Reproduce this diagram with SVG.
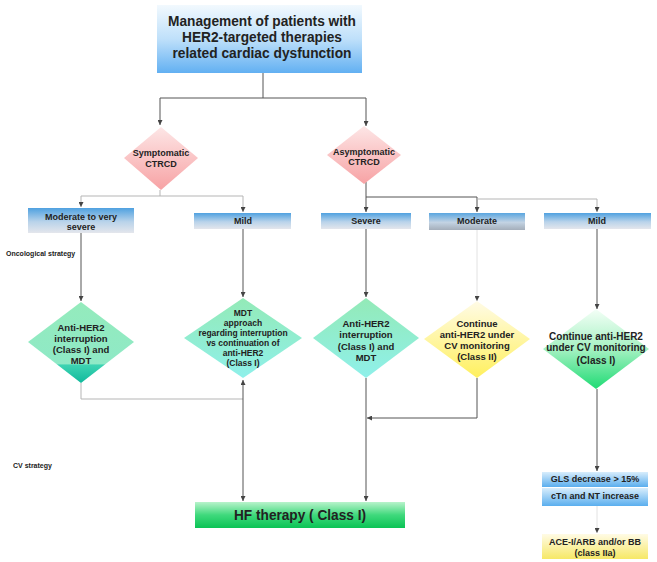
<svg xmlns="http://www.w3.org/2000/svg" width="657" height="562" viewBox="0 0 657 562">
<defs>
<linearGradient id="gTitle" x1="0" y1="0" x2="0" y2="1"><stop offset="0" stop-color="#f2f9fe"/><stop offset="0.5" stop-color="#bfe0fa"/><stop offset="1" stop-color="#62b0f2"/></linearGradient>
<linearGradient id="gPink" x1="0" y1="0" x2="0" y2="1"><stop offset="0" stop-color="#fde6e6"/><stop offset="1" stop-color="#f7a2a4"/></linearGradient>
<linearGradient id="gHead" x1="0" y1="0" x2="0" y2="1"><stop offset="0" stop-color="#4fa1e0"/><stop offset="0.55" stop-color="#b9d3ea"/><stop offset="1" stop-color="#e4e6ec"/></linearGradient>
<linearGradient id="gHeadDark" x1="0" y1="0" x2="0" y2="1"><stop offset="0" stop-color="#5aa6e0"/><stop offset="0.55" stop-color="#c3d3e3"/><stop offset="1" stop-color="#a4aeba"/></linearGradient>
<linearGradient id="gTealTri" x1="0" y1="0" x2="0" y2="1"><stop offset="0" stop-color="#94ebbc"/><stop offset="0.76" stop-color="#8fe9c6"/><stop offset="0.78" stop-color="#3dd3b2"/><stop offset="1" stop-color="#10b99c"/></linearGradient>
<linearGradient id="gTeal" x1="0" y1="0" x2="0" y2="1"><stop offset="0" stop-color="#93eab7"/><stop offset="1" stop-color="#8ff0ea"/></linearGradient>
<linearGradient id="gYellow" x1="0" y1="0" x2="0" y2="1"><stop offset="0" stop-color="#fffbe6"/><stop offset="1" stop-color="#fff05e"/></linearGradient>
<linearGradient id="gGreenD" x1="0" y1="0" x2="0" y2="1"><stop offset="0" stop-color="#f4fff7"/><stop offset="0.5" stop-color="#a5f1c2"/><stop offset="1" stop-color="#1fdb74"/></linearGradient>
<linearGradient id="gHF" x1="0" y1="0" x2="0" y2="1"><stop offset="0" stop-color="#b8f3cb"/><stop offset="0.5" stop-color="#3fd97c"/><stop offset="1" stop-color="#0bc355"/></linearGradient>
<linearGradient id="gLBlue" x1="0" y1="0" x2="0" y2="1"><stop offset="0" stop-color="#d8edfc"/><stop offset="1" stop-color="#5aaeee"/></linearGradient>
<linearGradient id="gAce" x1="0" y1="0" x2="0" y2="1"><stop offset="0" stop-color="#fffbe6"/><stop offset="1" stop-color="#f6e866"/></linearGradient>
<marker id="arr" viewBox="0 0 6 6" markerWidth="5" markerHeight="5" refX="6" refY="3" orient="auto-start-reverse" markerUnits="userSpaceOnUse"><path d="M0,0 L6,3 L0,6 z" fill="#444"/></marker>
</defs>
<style>
text{font-family:"Liberation Sans",Arial,sans-serif;font-weight:bold;fill:#222;text-anchor:middle}
.ln{fill:none;stroke:#555;stroke-width:1}
.lt{fill:none;stroke:#b5b5b5;stroke-width:1}
.vl{fill:none;stroke:#e2e2e2;stroke-width:1}
.side{font-size:7px;text-anchor:start}
</style>
<rect width="657" height="562" fill="#ffffff"/>

<g id="connectors">
<path class="ln" d="M263,73 V98 H160 V125" marker-end="url(#arr)"/>
<path class="ln" d="M263,98 H366 V126" marker-end="url(#arr)"/>
<path class="lt" d="M160,190 V196 H81 V207" marker-end="url(#arr)"/>
<path class="lt" d="M160,196 H243 V212" marker-end="url(#arr)"/>
<path class="ln" d="M366,182 V212" marker-end="url(#arr)"/>
<path class="ln" d="M366,197 H477 V212" marker-end="url(#arr)"/>
<path class="lt" d="M477,199 H597 V212" marker-end="url(#arr)"/>
<path class="ln" d="M81,233 V301" marker-end="url(#arr)"/>
<path class="ln" d="M243,229 V297" marker-end="url(#arr)"/>
<path class="ln" d="M366,229 V297" marker-end="url(#arr)"/>
<path class="vl" d="M477,230 V295"/>
<path class="vl" d="M477,295 V301" stroke="#555" marker-end="url(#arr)"/>
<path class="ln" d="M597,229 V309" marker-end="url(#arr)"/>
<path class="lt" d="M81,383 V399 H243"/>
<path class="ln" d="M243,380 V501" marker-start="url(#arr)" marker-end="url(#arr)"/>
<path class="ln" d="M366,378 V501" marker-end="url(#arr)"/>
<path class="ln" d="M477,378 V418 H367" marker-end="url(#arr)"/>
<path class="ln" d="M597,389 V471" marker-end="url(#arr)"/>
<path class="vl" d="M597,506 V528"/>
<path class="vl" d="M597,527 V533" stroke="#555" marker-end="url(#arr)"/>
</g>

<g id="title">
<rect x="157" y="5" width="205" height="68" fill="url(#gTitle)"/>
<text x="262" y="26" font-size="14.5" textLength="188" lengthAdjust="spacingAndGlyphs">Management of patients with</text>
<text x="262" y="42" font-size="14.5" textLength="160" lengthAdjust="spacingAndGlyphs">HER2-targeted therapies</text>
<text x="262" y="58" font-size="14.5" textLength="179" lengthAdjust="spacingAndGlyphs">related cardiac dysfunction</text>
</g>

<g id="symptomatic">
<polygon points="161,127 198,158 161,190 124,158" fill="url(#gPink)"/>
<text x="161" y="156" font-size="9">Symptomatic</text>
<text x="161" y="167" font-size="9">CTRCD</text>
</g>

<g id="asymptomatic">
<polygon points="364,126 401,155 364,184 327,155" fill="url(#gPink)"/>
<text x="364" y="155" font-size="9">Asymptomatic</text>
<text x="364" y="165" font-size="9">CTRCD</text>
</g>

<g id="sym-moderate">
<rect x="28" y="208" width="106" height="25" fill="url(#gHead)"/>
<text x="81" y="220" font-size="9">Moderate to very</text>
<text x="81" y="230" font-size="9">severe</text>
</g>

<g id="sym-mild">
<rect x="194" y="213" width="97" height="16" fill="url(#gHead)"/>
<text x="243" y="224" font-size="9">Mild</text>
</g>

<g id="asym-severe">
<rect x="321" y="213" width="90" height="16" fill="url(#gHead)"/>
<text x="366" y="224" font-size="9">Severe</text>
</g>

<g id="asym-moderate">
<rect x="429" y="213" width="96" height="17" fill="url(#gHeadDark)"/>
<text x="477" y="224" font-size="9">Moderate</text>
</g>

<g id="asym-mild">
<rect x="544" y="213" width="107" height="16" fill="url(#gHead)"/>
<text x="597" y="224" font-size="9">Mild</text>
</g>

<g id="labels">
<text class="side" x="6" y="255.5">Oncological strategy</text>
<text class="side" x="13" y="467.5">CV strategy</text>
</g>

<g id="sym-severe-action">
<polygon points="81,302 134,342 81,383 28,342" fill="url(#gTealTri)"/>
<text x="81" y="330.5" font-size="9.5">Anti-HER2</text>
<text x="81" y="341.5" font-size="9.5">interruption</text>
<text x="81" y="352.5" font-size="9.5">(Class I) and</text>
<text x="81" y="363.5" font-size="9.5">MDT</text>
</g>

<g id="sym-mild-action">
<polygon points="243,298 302,338 243,378 184,338" fill="url(#gTeal)"/>
<text x="243" y="316" font-size="8.5">MDT</text>
<text x="243" y="326" font-size="8.5">approach</text>
<text x="243" y="336" font-size="8.5">regarding interruption</text>
<text x="243" y="346" font-size="8.5">vs continuation of</text>
<text x="243" y="356" font-size="8.5">anti-HER2</text>
<text x="243" y="366" font-size="8.5">(Class I)</text>
</g>

<g id="asym-severe-action">
<polygon points="366,298 419,338 366,378 313,338" fill="url(#gTeal)"/>
<text x="366" y="326.5" font-size="9.5">Anti-HER2</text>
<text x="366" y="338" font-size="9.5">interruption</text>
<text x="366" y="349.5" font-size="9.5">(Class I) and</text>
<text x="366" y="360.5" font-size="9.5">MDT</text>
</g>

<g id="asym-moderate-action">
<polygon points="477,301 530,339 477,378 424,339" fill="url(#gYellow)"/>
<text x="477" y="326.5" font-size="9.5">Continue</text>
<text x="477" y="337.5" font-size="9.5">anti-HER2 under</text>
<text x="477" y="348.5" font-size="9.5">CV monitoring</text>
<text x="477" y="359.5" font-size="9.5">(Class II)</text>
</g>

<g id="asym-mild-action">
<polygon points="596,309 649,349 596,389 543,349" fill="url(#gGreenD)"/>
<text x="596" y="339.5" font-size="10">Continue anti-HER2</text>
<text x="596" y="351" font-size="10">under CV monitoring</text>
<text x="596" y="363.5" font-size="10">(Class I)</text>
</g>

<g id="hf-therapy">
<rect x="195" y="502" width="210" height="26" fill="url(#gHF)"/>
<text x="300" y="519.5" font-size="15.5" textLength="132" lengthAdjust="spacingAndGlyphs" fill="#123a1e">HF therapy ( Class I)</text>
</g>

<g id="gls">
<rect x="542" y="472" width="106" height="15" fill="url(#gLBlue)"/>
<text x="595" y="481.5" font-size="9">GLS decrease &gt; 15%</text>
</g>

<g id="ctn">
<rect x="542" y="488" width="106" height="18" fill="url(#gLBlue)"/>
<text x="595" y="499" font-size="9">cTn and NT increase</text>
</g>

<g id="ace">
<rect x="542" y="534" width="106" height="25" fill="url(#gAce)"/>
<text x="595" y="544.5" font-size="9">ACE-I/ARB and/or BB</text>
<text x="595" y="555.5" font-size="9">(class IIa)</text>
</g>
</svg>
